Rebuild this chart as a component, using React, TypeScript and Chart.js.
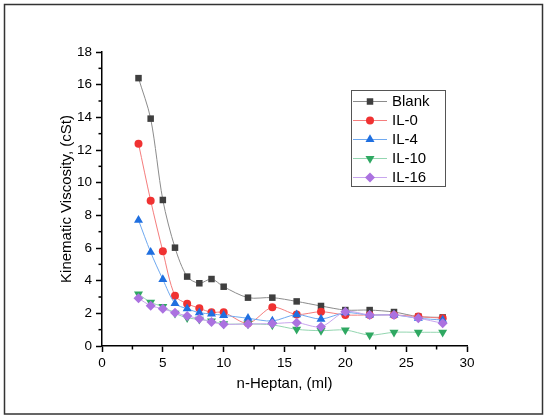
import React, { useEffect, useRef } from 'react';
import { Chart, registerables } from 'chart.js';

Chart.register(...registerables);

const xValues = [3, 4, 5, 6, 7, 8, 9, 10, 12, 14, 16, 18, 20, 22, 24, 26, 28];
const blank = [16.4, 13.92, 8.94, 6.02, 4.25, 3.84, 4.1, 3.63, 2.96, 2.96, 2.73, 2.45, 2.2, 2.2, 2.08, 1.8, 1.75];
const il0 = [12.39, 8.9, 5.8, 3.08, 2.59, 2.31, 2.06, 2.06, 1.39, 2.37, 1.93, 2.1, 1.9, 1.9, 1.9, 1.8, 1.7];
const il4 = [7.7, 5.74, 4.08, 2.61, 2.28, 2.04, 1.96, 1.88, 1.7, 1.53, 1.92, 1.65, 2.04, 1.9, 1.9, 1.7, 1.59];
const il10 = [3.18, 2.67, 2.41, 2.0, 1.73, 1.63, 1.53, 1.35, 1.35, 1.29, 1.02, 0.94, 0.98, 0.67, 0.84, 0.84, 0.84];
const il16 = [2.92, 2.47, 2.28, 2.04, 1.84, 1.67, 1.47, 1.33, 1.35, 1.37, 1.43, 1.18, 2.1, 1.9, 1.9, 1.7, 1.39];

const seriesNames = ['Blank', 'IL-0', 'IL-4', 'IL-10', 'IL-16'];
const seriesValues = [blank, il0, il4, il10, il16];
const lineColors = ['#8c8c8c', '#f57d7d', '#6fa9f0', '#93d6b0', '#c8a6ee'];
const markerColors = ['#3f3f3f', '#f03232', '#1f6fe0', '#2fa862', '#ab72e0'];
const markerStyles = ['rect', 'circle', 'triangle', 'triangle', 'rectRot'];
const markerRotations = [0, 0, 0, 180, 0];
const markerRadii = [4.6, 4, 5.2, 5.2, 5];

const xTitle = 'n-Heptan, (ml)';
const yTitle = 'Kinematic Viscosity, (cSt)';
const xMin = 0, xMax = 30, xStep = 5;
const yMin = 0, yMax = 18, yStep = 2;

const FONT = "'Liberation Sans', Arial, sans-serif";

function drawMarker(ctx: CanvasRenderingContext2D, style: string, rot: number, r: number, x: number, y: number, color: string) {
  ctx.save();
  ctx.fillStyle = color;
  ctx.translate(x, y);
  ctx.rotate((rot * Math.PI) / 180);
  ctx.beginPath();
  if (style === 'rect') {
    const s = r * Math.SQRT1_2;
    ctx.rect(-s, -s, 2 * s, 2 * s);
  } else if (style === 'circle') {
    ctx.arc(0, 0, r, 0, Math.PI * 2);
  } else if (style === 'triangle') {
    ctx.moveTo(0, -r);
    ctx.lineTo(r * Math.sin(Math.PI / 3), r * 0.5);
    ctx.lineTo(-r * Math.sin(Math.PI / 3), r * 0.5);
    ctx.closePath();
  } else {
    ctx.moveTo(0, -r);
    ctx.lineTo(r, 0);
    ctx.lineTo(0, r);
    ctx.lineTo(-r, 0);
    ctx.closePath();
  }
  ctx.fill();
  ctx.restore();
}

const framePlugin = {
  id: 'frame',
  beforeDraw(chart: any) {
    const ctx = chart.ctx as CanvasRenderingContext2D;
    ctx.save();
    ctx.fillStyle = '#ffffff';
    ctx.fillRect(0, 0, chart.width, chart.height);
    ctx.strokeStyle = '#333333';
    ctx.lineWidth = 1.5;
    ctx.strokeRect(4.5, 4.5, 538, 409.5);
    ctx.restore();
  },
  afterDraw(chart: any) {
    const ctx = chart.ctx as CanvasRenderingContext2D;
    const xs = chart.scales.x;
    const ys = chart.scales.y;
    const area = chart.chartArea;
    ctx.save();
    ctx.strokeStyle = '#000';
    ctx.lineWidth = 1.5;
    // minor ticks
    for (let v = xMin + xStep / 2; v < xMax; v += xStep) {
      const px = xs.getPixelForValue(v);
      ctx.beginPath();
      ctx.moveTo(px, area.bottom);
      ctx.lineTo(px, area.bottom + 3.5);
      ctx.stroke();
    }
    for (let v = yMin + yStep / 2; v < yMax; v += yStep) {
      const py = ys.getPixelForValue(v);
      ctx.beginPath();
      ctx.moveTo(area.left, py);
      ctx.lineTo(area.left - 3.5, py);
      ctx.stroke();
    }
    // legend
    const bx = 351, by = 90, bw = 94, bh = 96;
    ctx.fillStyle = '#fff';
    ctx.fillRect(bx, by, bw, bh);
    ctx.strokeStyle = '#555';
    ctx.lineWidth = 1;
    ctx.strokeRect(bx + 0.5, by + 0.5, bw, bh);
    chart.data.datasets.forEach((ds: any, i: number) => {
      const y = 101.5 + i * 19;
      ctx.strokeStyle = ds.borderColor;
      ctx.lineWidth = 1;
      ctx.beginPath();
      ctx.moveTo(353, y);
      ctx.lineTo(387, y);
      ctx.stroke();
      drawMarker(ctx, markerStyles[i], markerRotations[i], markerRadii[i], 370, y, markerColors[i]);
      ctx.fillStyle = '#000';
      ctx.font = `15px ${FONT}`;
      ctx.textBaseline = 'middle';
      ctx.textAlign = 'left';
      ctx.fillText(ds.label, 392, y + 0.5);
    });
    ctx.restore();
  },
};

export default function App() {
  const ref = useRef<HTMLCanvasElement | null>(null);
  useEffect(() => {
    if (!ref.current) return;
    Chart.defaults.font.family = FONT;
    const datasets = seriesNames.map((name, i) => ({
      label: name,
      data: xValues.map((x, j) => ({ x, y: seriesValues[i][j] })),
      borderColor: lineColors[i],
      borderWidth: 1,
      backgroundColor: markerColors[i],
      pointBackgroundColor: markerColors[i],
      pointBorderColor: markerColors[i],
      pointBorderWidth: 0,
      pointStyle: markerStyles[i],
      pointRotation: markerRotations[i],
      pointRadius: markerRadii[i],
      tension: 0.3,
      fill: false,
      order: seriesNames.length - i,
    }));
    const chart = new Chart(ref.current, {
      type: 'line',
      data: { datasets },
      plugins: [framePlugin],
      options: {
        animation: false,
        responsive: false,
        events: [],
        layout: { padding: { left: 0, right: 83, top: 52, bottom: 0 } },
        plugins: { legend: { display: false }, tooltip: { enabled: false } },
        scales: {
          x: {
            type: 'linear',
            min: xMin,
            max: xMax,
            afterFit: (s: any) => { s.height = 74; },
            ticks: { stepSize: xStep, color: '#000', font: { size: 13.5 }, padding: 3, maxRotation: 0 },
            grid: { drawOnChartArea: false, drawTicks: true, tickLength: 6, tickColor: '#000', tickWidth: 1.5 },
            border: { display: true, color: '#000', width: 1.5 },
            title: { display: true, text: xTitle, color: '#000', font: { size: 15 }, padding: { top: 0, bottom: 27 } },
          },
          y: {
            type: 'linear',
            min: yMin,
            max: yMax,
            afterFit: (s: any) => { s.width = 102; },
            ticks: { stepSize: yStep, color: '#000', font: { size: 13.5 }, padding: 4 },
            grid: { drawOnChartArea: false, drawTicks: true, tickLength: 6, tickColor: '#000', tickWidth: 1.5 },
            border: { display: true, color: '#000', width: 1.5 },
            title: { display: true, text: yTitle, color: '#000', font: { size: 15 }, padding: { top: 58, bottom: 0 } },
          },
        },
      } as any,
    });
    return () => chart.destroy();
  }, []);
  return (
    <div style={{ position: 'absolute', left: 0, top: 0, width: 550, height: 420 }}>
      <canvas ref={ref} width={550} height={420} style={{ width: 550, height: 420, display: 'block' }} />
    </div>
  );
}
